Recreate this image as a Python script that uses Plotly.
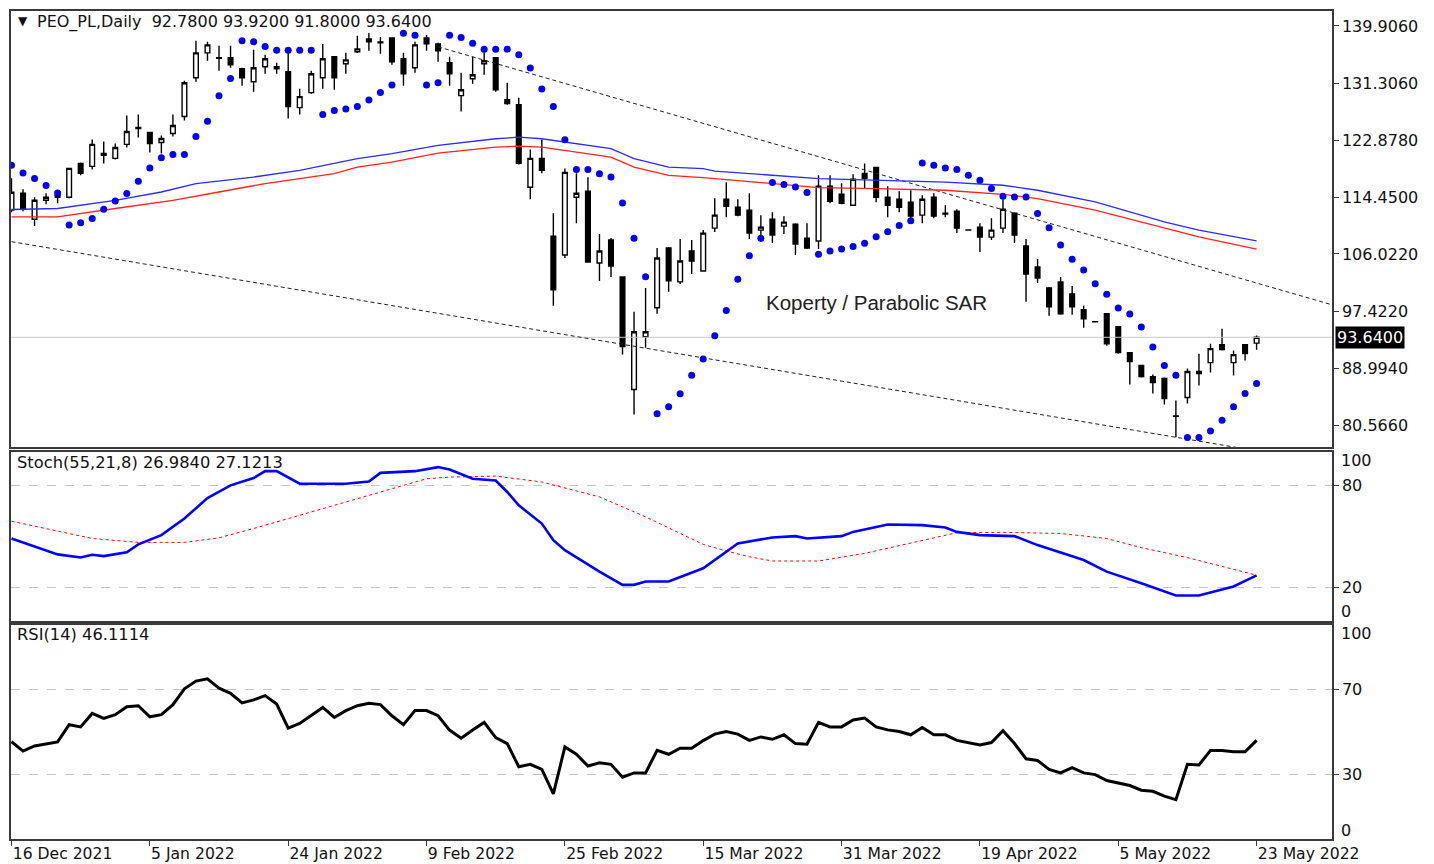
import plotly.graph_objects as go

# ---------------- data ----------------
date_ticks = [0, 12, 24, 36, 48, 60, 72, 84, 96, 108]
date_labels = ["16 Dec 2021", "5 Jan 2022", "24 Jan 2022", "9 Feb 2022", "25 Feb 2022",
               "15 Mar 2022", "31 Mar 2022", "19 Apr 2022", "5 May 2022", "23 May 2022"]

price_ticks = [139.906, 131.306, 122.878, 114.450, 106.022, 97.422, 88.994, 80.566]

open_ = [112.53, 115.04, 111.19, 114.01, 114.45, 114.45, 119.48, 119.04, 120.96, 120.22,
         122.30, 124.66, 124.07, 122.59, 123.92, 126.44, 132.21, 135.91, 135.17, 135.17,
         133.54, 131.62, 133.84, 133.54, 133.10, 127.77, 129.99, 132.21, 135.32, 134.28,
         136.06, 137.98, 137.54, 138.13, 135.02, 133.69, 138.13, 137.24, 134.43, 129.55,
         132.06, 134.28, 135.17, 128.95, 128.21, 115.93, 120.22, 108.68, 105.87, 114.45,
         115.34, 104.68, 108.09, 102.61, 85.89, 93.73, 98.02, 106.90, 101.87, 106.46,
         103.50, 109.86, 114.16, 112.97, 112.53, 109.57, 111.19, 110.16, 110.46, 108.38,
         107.94, 116.08, 114.89, 113.27, 118.00, 118.89, 114.45, 114.16, 113.71, 111.79,
         114.45, 112.08, 112.38, 109.60, 110.01, 108.53, 109.86, 112.08, 107.20, 104.09,
         100.98, 101.87, 100.09, 97.73, 95.97, 97.13, 95.21, 91.36, 89.44, 87.80,
         87.51, 81.95, 84.70, 88.55, 89.88, 92.55, 89.88, 92.55, 92.78]
high = [117.26, 115.63, 114.45, 115.04, 115.49, 118.80, 119.63, 123.04, 122.74, 122.44,
        126.59, 126.73, 124.10, 123.63, 126.73, 131.77, 137.69, 137.54, 136.95, 136.95,
        133.69, 136.35, 135.61, 134.43, 136.35, 130.58, 133.25, 137.24, 135.40, 135.91,
        138.43, 138.87, 138.28, 138.20, 135.91, 137.54, 138.57, 137.39, 135.32, 132.95,
        135.32, 136.65, 135.30, 131.47, 129.25, 121.56, 123.04, 112.08, 118.74, 118.00,
        117.41, 108.98, 108.38, 102.70, 97.43, 100.98, 106.90, 107.05, 108.23, 108.09,
        109.57, 114.30, 116.67, 114.16, 115.04, 111.79, 112.23, 111.64, 110.60, 110.60,
        117.71, 117.71, 116.52, 117.85, 119.48, 119.00, 116.08, 115.34, 115.49, 114.75,
        115.04, 113.27, 112.67, 109.62, 110.60, 111.34, 114.16, 112.23, 108.23, 105.27,
        101.13, 102.61, 101.28, 98.32, 95.98, 97.20, 95.30, 91.40, 89.50, 88.11,
        87.66, 84.26, 89.00, 91.21, 92.69, 94.91, 91.66, 92.60, 93.92]
low = [112.23, 112.38, 110.16, 113.41, 113.56, 114.30, 117.71, 118.59, 119.48, 120.07,
       121.85, 123.33, 121.11, 120.96, 123.48, 125.85, 131.62, 134.73, 133.25, 133.69,
       131.03, 130.14, 132.80, 132.80, 126.14, 126.73, 129.84, 130.58, 130.43, 132.80,
       135.90, 136.21, 135.76, 134.13, 131.03, 132.95, 136.21, 134.58, 131.03, 127.18,
       131.32, 132.65, 130.14, 128.21, 119.33, 114.16, 118.00, 98.32, 105.42, 110.60,
       104.70, 102.02, 102.61, 91.07, 82.18, 92.10, 97.13, 100.39, 101.57, 103.05,
       103.40, 109.27, 111.49, 111.64, 108.23, 107.79, 107.64, 108.98, 105.87, 106.75,
       106.75, 113.56, 113.41, 113.20, 115.78, 113.71, 111.49, 112.23, 111.05, 110.60,
       111.34, 111.49, 109.12, 109.55, 106.31, 108.09, 109.12, 107.64, 98.91, 101.72,
       96.84, 96.99, 96.99, 95.06, 95.93, 92.40, 91.21, 86.63, 87.66, 85.30,
       83.67, 78.78, 83.81, 86.48, 88.40, 91.66, 87.96, 90.18, 91.80]
close = [115.19, 112.67, 114.01, 114.45, 114.75, 118.74, 118.00, 122.30, 120.67, 121.85,
         124.22, 124.81, 122.44, 123.18, 125.11, 131.47, 135.91, 137.09, 135.10, 134.13,
         132.21, 133.69, 135.02, 133.84, 127.92, 129.40, 132.80, 135.02, 132.21, 134.87,
         136.50, 137.54, 137.39, 134.58, 132.80, 137.09, 137.24, 136.21, 132.80, 130.43,
         132.65, 134.73, 130.43, 128.36, 119.48, 120.22, 118.45, 100.69, 118.15, 115.04,
         104.82, 106.46, 104.24, 92.25, 94.47, 94.47, 105.42, 102.02, 104.98, 104.98,
         109.12, 111.79, 113.12, 111.79, 109.12, 110.01, 108.83, 110.76, 107.50, 106.90,
         116.08, 113.86, 113.56, 117.12, 117.26, 114.45, 113.27, 112.97, 111.64, 114.16,
         111.64, 111.95, 109.86, 109.57, 108.53, 109.57, 112.67, 108.83, 103.05, 102.46,
         98.17, 97.13, 98.17, 96.39, 95.95, 92.69, 91.36, 90.03, 87.80, 86.92,
         84.55, 81.89, 88.55, 88.25, 91.95, 91.81, 91.07, 91.21, 93.64]

sar = [119.19, 118.05, 117.22, 116.18, 115.09, 110.31, 110.65, 111.30, 112.67, 113.90,
       115.00, 116.82, 118.79, 120.33, 120.81, 120.81, 123.48, 125.74, 129.55, 132.11,
       137.69, 137.54, 136.84, 136.31, 136.31, 136.31, 136.31, 126.73, 127.33, 127.58,
       127.92, 128.91, 130.03, 131.13, 138.83, 138.53, 131.13, 131.47, 138.53, 138.17,
       137.35, 136.46, 136.46, 136.46, 135.61, 133.65, 130.54, 127.92, 122.99, 118.59,
       118.59, 117.96, 117.45, 113.61, 108.34, 102.65, 82.29, 83.33, 85.25, 88.00,
       90.43, 93.88, 97.62, 102.27, 105.76, 108.34, 116.63, 116.33, 115.97, 115.15,
       105.97, 106.46, 106.76, 107.15, 107.60, 108.57, 109.31, 110.26, 110.94, 119.53,
       119.19, 118.79, 118.59, 117.71, 116.97, 115.74, 114.60, 114.49, 114.49, 112.04,
       109.91, 107.35, 105.23, 103.65, 101.58, 100.05, 97.98, 97.09, 95.17, 92.21,
       89.44, 88.00, 78.74, 78.74, 79.71, 81.30, 83.33, 85.29, 86.77]

ma_blue_idx = [0, 4, 9, 13, 16, 21, 25, 30, 33, 37, 42, 44, 46, 49, 52, 54, 57, 60, 61,
               70, 75, 81, 86, 89, 94, 100, 103, 108]
ma_blue = [112.63, 112.78, 114.00, 115.23, 116.48, 117.45, 118.45, 120.18, 120.92, 122.15,
           123.14, 123.37, 123.14, 122.40, 121.66, 120.18, 118.93, 118.70, 118.34,
           117.22, 116.97, 116.71, 116.23, 115.49, 113.75, 110.80, 109.57, 107.98]
ma_red_idx = [0, 4, 9, 14, 18, 22, 28, 30, 33, 37, 42, 44, 46, 49, 52, 54, 57, 60, 61,
              70, 75, 81, 86, 89, 94, 100, 103, 108]
ma_red = [111.53, 111.53, 112.78, 114.00, 115.23, 116.48, 117.96, 118.93, 119.67, 121.01,
          121.90, 122.04, 121.90, 121.16, 120.41, 118.93, 117.71, 117.37, 117.22,
          115.89, 115.74, 115.49, 114.89, 114.26, 112.53, 109.82, 108.57, 106.75]

upper_line_idx = [37, 114.5]
upper_line_val = [136.80, 98.49]
lower_line_idx = [0, 114.5]
lower_line_val = [107.85, 74.90]
last_price = 93.64

stoch_k_idx = [0, 4, 6, 7, 8, 10, 11, 13, 15, 17, 19, 21, 22, 23, 25, 29, 31, 32, 35, 37,
               38, 40, 42, 43, 44, 46, 47, 48, 51, 53, 54, 55, 57, 60, 63, 66, 68, 69, 72,
               73, 76, 79, 81, 82, 84, 87, 89, 93, 95, 98, 101, 103, 106, 108]
stoch_k = [48.8, 39.4, 37.6, 39.2, 38.4, 40.6, 45.3, 50.8, 60.6, 72.7, 80.2, 84.5, 88.6,
           88.6, 81.2, 81.2, 82.5, 87.6, 88.6, 91.0, 89.6, 84.1, 83.1, 76.3, 68.4, 57.6,
           47.8, 41.9, 29.2, 21.4, 21.4, 23.4, 23.4, 31.2, 45.9, 49.4, 50.2, 48.8, 50.2,
           52.7, 57.1, 56.7, 55.3, 52.7, 50.8, 50.2, 44.9, 36.1, 29.2, 22.4, 15.1, 15.1,
           20.4, 26.984]
stoch_d_idx = [0, 3, 7, 11, 15, 18, 21, 25, 29, 33, 36, 38, 42, 46, 51, 55, 59, 60, 62,
               64, 66, 70, 74, 78, 82, 86, 91, 95, 98, 102, 105, 108]
stoch_d = [59.0, 54.7, 48.8, 46.5, 46.5, 49.2, 54.7, 62.5, 70.4, 78.2, 84.1, 85.1, 85.7,
           82.2, 73.4, 61.6, 48.8, 45.3, 41.4, 38.0, 35.5, 35.5, 40.0, 45.9, 52.2, 52.4,
           51.8, 48.8, 43.4, 37.5, 32.2, 27.1213]

rsi = [45.5, 41.1, 43.5, 44.6, 45.4, 53.4, 52.4, 58.7, 56.4, 58.1,
       61.8, 62.3, 57.1, 58.1, 62.8, 70.2, 73.8, 74.9, 70.5, 68.1,
       63.6, 65.0, 67.0, 63.1, 51.8, 54.0, 57.6, 61.5, 56.8, 60.0,
       62.3, 63.4, 62.8, 57.6, 53.4, 60.0, 60.0, 57.6, 50.9, 47.1,
       50.9, 54.5, 47.4, 44.6, 33.8, 34.9, 32.5, 21.1, 43.0, 39.6,
       34.1, 35.6, 34.9, 28.9, 30.9, 30.9, 41.4, 39.6, 42.4, 42.4,
       46.0, 49.0, 50.2, 49.0, 46.1, 47.7, 46.6, 48.7, 44.6, 44.3,
       54.5, 52.4, 52.4, 55.6, 56.5, 52.4, 51.0, 50.2, 48.7, 52.1,
       48.7, 48.7, 46.1, 45.1, 44.0, 45.1, 50.6, 44.6, 37.5, 36.7,
       32.5, 30.9, 33.3, 30.9, 30.1, 27.3, 26.2, 25.0, 22.8, 22.3,
       20.0, 18.4, 34.9, 34.6, 41.4, 41.4, 40.8, 40.8, 46.1114]

bars = list(range(len(close)))

# ---------------- layout geometry (page pixels; page body has an 8px margin) ----------------
BODY = 8
W, H = 1434 - BODY, 864 - BODY
PL, PR, PT, PB = 9, 1332, 10, 842


def xp(px):
    return (px - PL) / (PR - PL)


def yp(py):
    return (PB - py) / (PB - PT)


FONT = "DejaVu Sans"
fig = go.Figure()

# price panel
fig.add_trace(go.Scatter(x=[-1, 116], y=[last_price, last_price], mode="lines",
                         line=dict(color="#c8c8c8", width=1), xaxis="x", yaxis="y",
                         hoverinfo="skip"))
fig.add_trace(go.Scatter(x=upper_line_idx, y=upper_line_val, mode="lines",
                         line=dict(color="#202020", width=1, dash="4px,3px"),
                         xaxis="x", yaxis="y"))
fig.add_trace(go.Scatter(x=lower_line_idx, y=lower_line_val, mode="lines",
                         line=dict(color="#202020", width=1, dash="4px,3px"),
                         xaxis="x", yaxis="y"))
fig.add_trace(go.Scatter(x=ma_blue_idx, y=ma_blue, mode="lines",
                         line=dict(color="#2b2bff", width=1.3), xaxis="x", yaxis="y"))
fig.add_trace(go.Scatter(x=ma_red_idx, y=ma_red, mode="lines",
                         line=dict(color="#ff2020", width=1.3), xaxis="x", yaxis="y"))
fig.add_trace(go.Scatter(x=bars, y=sar, mode="markers",
                         marker=dict(color="#0000ff", size=7, symbol="circle"),
                         xaxis="x", yaxis="y"))
fig.add_trace(go.Candlestick(x=bars, open=open_, high=high, low=low, close=close,
                             increasing=dict(fillcolor="#ffffff", line=dict(color="#000000", width=1.4)),
                             decreasing=dict(fillcolor="#000000", line=dict(color="#000000", width=1.4)),
                             whiskerwidth=0, xaxis="x", yaxis="y"))

# stochastic
fig.add_trace(go.Scatter(x=stoch_d_idx, y=stoch_d, mode="lines",
                         line=dict(color="#ff0000", width=1, dash="3px,3px"),
                         xaxis="x2", yaxis="y2"))
fig.add_trace(go.Scatter(x=stoch_k_idx, y=stoch_k, mode="lines",
                         line=dict(color="#0000ff", width=2.6), xaxis="x2", yaxis="y2"))

# RSI
fig.add_trace(go.Scatter(x=bars, y=rsi, mode="lines",
                         line=dict(color="#000000", width=3), xaxis="x3", yaxis="y3"))

XR = [-0.043, 114.54]
axis_line = dict(showline=True, mirror=True, linecolor="#3a3a3a", linewidth=1.5)

common_x = dict(range=XR, showgrid=False, zeroline=False, fixedrange=True, **axis_line)

d_price = [yp(448.3), 1.0]
d_stoch = [yp(623), yp(453)]
d_rsi = [0.0, yp(627)]

fig.update_layout(
    width=W, height=H,
    margin=dict(l=PL - BODY, r=1434 - PR, t=PT - BODY, b=864 - PB, pad=0),
    paper_bgcolor="white", plot_bgcolor="white",
    showlegend=False, boxgap=0.42,
    font=dict(family=FONT, size=16, color="#111111"),
    xaxis=dict(domain=[0, 1], anchor="y", showticklabels=False, ticks="",
               rangeslider=dict(visible=False), **common_x),
    xaxis2=dict(domain=[0, 1], anchor="y2", matches="x", showticklabels=False, ticks="",
                **common_x),
    xaxis3=dict(domain=[0, 1], anchor="y3", matches="x", ticks="outside", ticklen=5,
                tickcolor="#3a3a3a", tickvals=date_ticks, ticktext=date_labels,
                ticklabelposition="outside right", tickfont=dict(size=15.6), **common_x),
    yaxis=dict(domain=d_price, side="right", range=[77.31, 142.126],
               tickvals=price_ticks, ticktext=[f"{v:.4f}" for v in price_ticks],
               ticks="outside", ticklen=5, tickcolor="#3a3a3a", showgrid=False,
               zeroline=False, fixedrange=True, **axis_line),
    yaxis2=dict(domain=d_stoch, side="right", range=[0, 100], tickvals=[20, 80],
                ticks="outside", ticklen=5, tickcolor="#3a3a3a", showgrid=True,
                gridcolor="#c4c4c4", griddash="dash", gridwidth=1,
                zeroline=False, fixedrange=True, **axis_line),
    yaxis3=dict(domain=d_rsi, side="right", range=[0, 100], tickvals=[30, 70],
                ticks="outside", ticklen=5, tickcolor="#3a3a3a", showgrid=True,
                gridcolor="#c4c4c4", griddash="dash", gridwidth=1,
                zeroline=False, fixedrange=True, **axis_line),
)

ann = []


def text(px, py, s, size=16, anchor="left", color="#111111", family=FONT, **kw):
    ann.append(dict(x=xp(px), y=yp(py), xref="paper", yref="paper", text=s,
                    showarrow=False, xanchor=anchor, yanchor="middle",
                    font=dict(family=family, size=size, color=color), **kw))


text(21, 20, "▼", size=12, anchor="center")
text(33, 21, "PEO_PL,Daily\u00a0\u00a092.7800 93.9200 91.8000 93.6400")
text(13, 464, "Stoch(55,21,8) 26.9840 27.1213", size=16.3)
text(13, 637, "RSI(14) 46.1114", size=16.3)
text(876, 303, "Koperty / Parabolic SAR", size=20.5, anchor="center",
     family="Liberation Sans, Arial", color="#202020")
text(1339, 462, "100")
text(1339, 613, "0")
text(1339, 636, "100")
text(1339, 833, "0")
text(1335, 338, "93.6400", color="#ffffff", bgcolor="#000000", borderpad=1)

fig.update_layout(annotations=ann)
fig.write_html("out.html")
